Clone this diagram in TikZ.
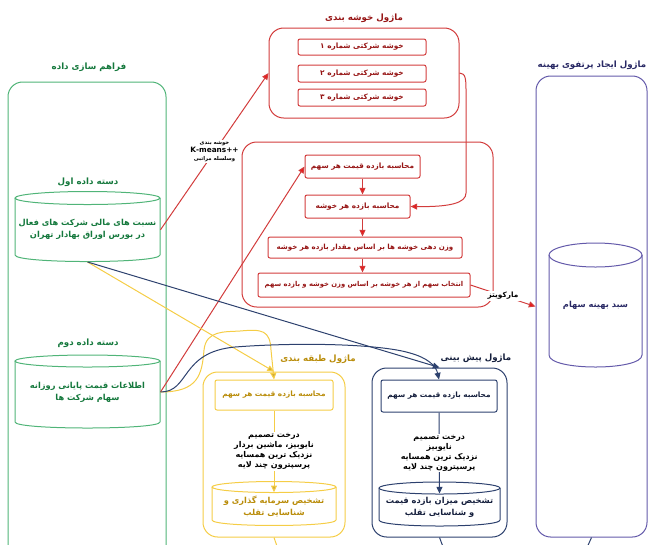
\documentclass[tikz,border=0pt]{standalone}
\usepackage{fontspec}
\newfontfamily\fa[Script=Arabic]{DejaVu Sans}
\TeXXeTstate=1
\usetikzlibrary{arrows.meta,fit}

\definecolor{grnline}{RGB}{80,180,120}
\definecolor{grntext}{RGB}{20,120,60}
\definecolor{redline}{RGB}{210,60,60}
\definecolor{redtip}{RGB}{235,25,25}
\definecolor{redtext}{RGB}{150,20,20}
\definecolor{ylwline}{RGB}{245,205,70}
\definecolor{ylwtext}{RGB}{185,140,10}
\definecolor{navline}{RGB}{45,65,110}
\definecolor{navtext}{RGB}{20,30,60}
\definecolor{purline}{RGB}{100,90,170}
\definecolor{purtext}{RGB}{40,40,100}

\newcommand{\rtl}[1]{\beginR #1\endR}

\tikzset{every picture/.style={line width=0.75pt}}
\tikzset{
  module/.style={inner sep=0pt, rounded corners=11pt},
  stepbox/.style={inner sep=0pt, draw=redline, rounded corners=1.5pt, text=redtext, font=\fa\bfseries\fontsize{5.5}{7}\selectfont},
  title/.style={inner sep=0.75pt, font=\fa\bfseries\fontsize{6.5}{8}\selectfont},
  drumtext/.style={inner sep=0pt, align=center, font=\fa\bfseries\fontsize{6.2}{9}\selectfont},
  edgelab/.style={inner sep=1pt, fill=white, text=black, align=center, font=\fa\bfseries\fontsize{4}{6}\selectfont},
  methlab/.style={inner sep=1pt, fill=white, text=black, align=center, font=\fa\bfseries\fontsize{6}{7.5}\selectfont},
  redarr/.style={draw=redline, -{Triangle[length=5pt,width=4.5pt,fill=redtip]}},
  ylwarr/.style={draw=ylwline, -{Triangle[length=5pt,width=4.5pt,fill=ylwline!85!black]}},
  navarr/.style={draw=navline, -{Triangle[length=5pt,width=4.5pt,fill=navline]}},
}

\begin{document}
\begin{tikzpicture}[x=0.75pt,y=0.75pt,yscale=-1,xscale=1]

%Shape: Rounded Rect [id:data]
\node[module, draw=grnline, fit={(8,82) (166,570)}] (datamod) {};
% Text Node
\node[title, text=grntext] (datatitle) at (89,67) {\rtl{فراهم سازی داده}};
% Text Node
\node[title, text=grntext] (set1title) at (88,182) {\rtl{دسته داده اول}};
%Shape: Can [id:set1]
\draw[grnline] (87.5,198) ellipse [x radius=72.5, y radius=6.5];
\draw[grnline] (15,198) -- (15,255) .. controls (15,263.7) and (160,263.7) .. (160,255) -- (160,198);
\node[drumtext, text=grntext, minimum width=108.75pt, minimum height=47.6pt] (set1) at (87.5,229.75) {\rtl{نسبت های مالی شرکت های فعال}\\\rtl{در بورس اوراق بهادار تهران}};
% Text Node
\node[title, text=grntext] (set2title) at (88,343) {\rtl{دسته داده دوم}};
%Shape: Can [id:set2]
\draw[grnline] (87.5,361) ellipse [x radius=72.5, y radius=6];
\draw[grnline] (15,361) -- (15,422) .. controls (15,430) and (160,430) .. (160,422) -- (160,361);
\node[drumtext, text=grntext, minimum width=108.75pt, minimum height=48pt] (set2) at (87.5,392) {\rtl{اطلاعات قیمت پایانی روزانه}\\\rtl{سهام شرکت ها}};

%Shape: Rounded Rect [id:clust]
\node[module, draw=redline, fit={(269,28) (459,118)}] (clmod) {};
% Text Node
\node[title, text=redtext] (cltitle) at (364,18) {\rtl{ماژول خوشه بندی}};
\node[stepbox, minimum width=96pt, minimum height=12pt] (cl1) at (362,47) {\rtl{خوشه شرکتی شماره ۱}};
\node[stepbox, minimum width=96pt, minimum height=12.75pt] (cl2) at (362,73.5) {\rtl{خوشه شرکتی شماره ۲}};
\node[stepbox, minimum width=96pt, minimum height=12.75pt] (cl3) at (362,97.5) {\rtl{خوشه شرکتی شماره ۳}};

%Shape: Rounded Rect [id:portf]
\node[module, draw=redline, fit={(242,142) (493,307)}] (pfmod) {};
\node[stepbox, minimum width=86.25pt, minimum height=17.25pt] (st1) at (362.5,166.5) {\rtl{محاسبه بازده قیمت هر سهم}};
\node[stepbox, minimum width=78.75pt, minimum height=17.25pt] (st2) at (357.5,206.5) {\rtl{محاسبه بازده هر خوشه}};
\node[stepbox, minimum width=145.5pt, minimum height=15.75pt, font=\fa\bfseries\fontsize{5.3}{7}\selectfont] (st3) at (365,247.5) {\rtl{وزن دهی خوشه ها بر اساس مقدار بازده هر خوشه}};
\node[stepbox, minimum width=159pt, minimum height=18pt, font=\fa\bfseries\fontsize{5.1}{7}\selectfont] (st4) at (364,285) {\rtl{انتخاب سهم از هر خوشه بر اساس وزن خوشه و بازده سهم}};

%Shape: Rounded Rect [id:optim]
\node[module, draw=purline, fit={(536,76) (647,537)}] (optmod) {};
% Text Node
\node[title, text=purtext] (opttitle) at (592,65) {\rtl{ماژول ایجاد پرتفوی بهینه}};
%Shape: Can [id:basket]
\draw[purline] (595.5,255) ellipse [x radius=46.5, y radius=12];
\draw[purline] (549,255) -- (549,355) .. controls (549,371) and (642,371) .. (642,355) -- (642,255);
\node[drumtext, text=purtext, minimum width=69.75pt, minimum height=84pt] (basket) at (595.5,305) {\rtl{سبد بهینه سهام}};

%Shape: Rounded Rect [id:classif]
\node[module, draw=ylwline, fit={(203,372) (345,537)}] (clsmod) {};
% Text Node
\node[title, text=ylwtext] (clstitle) at (318,359) {\rtl{ماژول طبقه بندی}};
\node[stepbox, draw=ylwline, text=ylwtext, minimum width=88.5pt, minimum height=22.5pt] (clsret) at (274,395) {\rtl{محاسبه بازده قیمت هر سهم}};
%Shape: Can [id:clsout]
\draw[ylwline] (274,487) ellipse [x radius=62, y radius=5.5];
\draw[ylwline] (212,487) -- (212,520) .. controls (212,527.3) and (336,527.3) .. (336,520) -- (336,487);
\node[drumtext, text=ylwtext, minimum width=93pt, minimum height=28.9pt] (clsout) at (274,506.5) {\rtl{تشخیص سرمایه گذاری و}\\\rtl{شناسایی تقلب}};

%Shape: Rounded Rect [id:predict]
\node[module, draw=navline, fit={(372,368) (507,537)}] (prdmod) {};
% Text Node
\node[title, text=navtext] (prdtitle) at (476,358) {\rtl{ماژول پیش بینی}};
\node[stepbox, draw=navline, text=navtext, minimum width=87pt, minimum height=24pt] (prdret) at (439,396) {\rtl{محاسبه بازده قیمت هر سهم}};
%Shape: Can [id:prdout]
\draw[navline] (439.5,488) ellipse [x radius=60.5, y radius=6];
\draw[navline] (379,488) -- (379,520) .. controls (379,528) and (500,528) .. (500,520) -- (500,488);
\node[drumtext, text=navtext, minimum width=90.75pt, minimum height=28.5pt] (prdout) at (439.5,507) {\rtl{تشخیص میزان بازده قیمت}\\\rtl{و شناسایی تقلب}};

%Straight Lines
\draw[redarr] (set1.east) -- node[edgelab] (kmlab) {\rtl{خوشه بندی}\\{\fontsize{5.5}{6.5}\selectfont K-means++}\\\rtl{وسلسله مراتبی}} (clmod.west);
\draw[redarr] (set2.east) -- (st1.west);
%Curve Lines
\draw[redarr] (clmod.east) .. controls (466,73) and (466,80) .. (466,92) -- (466,193) .. controls (466,203) and (450,207) .. (st2.east);
%Straight Lines
\draw[redarr] (st1.south) -- (st1.south |- st2.north);
\draw[redarr] (st1.south |- st2.south) -- (st1.south |- st3.north);
\draw[redarr] (st1.south |- st3.south) -- (st1.south |- st4.north);
\draw[redarr] (st4.east) -- node[edgelab, font=\fa\bfseries\fontsize{5.5}{7}\selectfont] (markow) {\rtl{مارکویتز}} (optmod.west);

%Straight Lines
\draw[ylwarr] (set1.south) -- (clsmod.north);
%Curve Lines
\draw[ylwarr] (set2.east) .. controls (198,392) and (202,375) .. (204,350) .. controls (206,330) and (225,332) .. (240,331) .. controls (262,329) and (270,330) .. (271,350) -- (clsret.north);
\draw[ylwarr] (clsret.south) -- node[methlab] (clsalg) {\rtl{درخت تصمیم}\\\rtl{نایوبیز، ماشین بردار}\\\rtl{نزدیک ترین همسایه}\\\rtl{پرسپترون چند لایه}} ([yshift=4.1pt]clsout.north);

%Straight Lines
\draw[navarr] (set1.south) -- (prdmod.north);
%Curve Lines
\draw[navarr] (set2.east) .. controls (190,392) and (180,352) .. (235,347) .. controls (300,342) and (380,344) .. (410,353) .. controls (428,358) and (436,366) .. (prdret.north);
\draw[navarr] (prdret.south) -- node[methlab] (prdalg) {\rtl{درخت تصمیم}\\\rtl{نایوبیز}\\\rtl{نزدیک ترین همسایه}\\\rtl{پرسپترون چند لایه}} ([yshift=4.5pt]prdout.north);

% stubs leaving the frame
\coordinate (ylwend) at (279,552);
\coordinate (navend) at (445,552);
\coordinate (purend) at (585,552);
\draw[ylwline] (clsmod.south) -- (ylwend);
\draw[navline] (prdmod.south) -- (navend);
\draw[navline] (optmod.south) -- (purend);

\pgfresetboundingbox
\path[use as bounding box] (0,0) rectangle (648,544);

\end{tikzpicture}
\end{document}
